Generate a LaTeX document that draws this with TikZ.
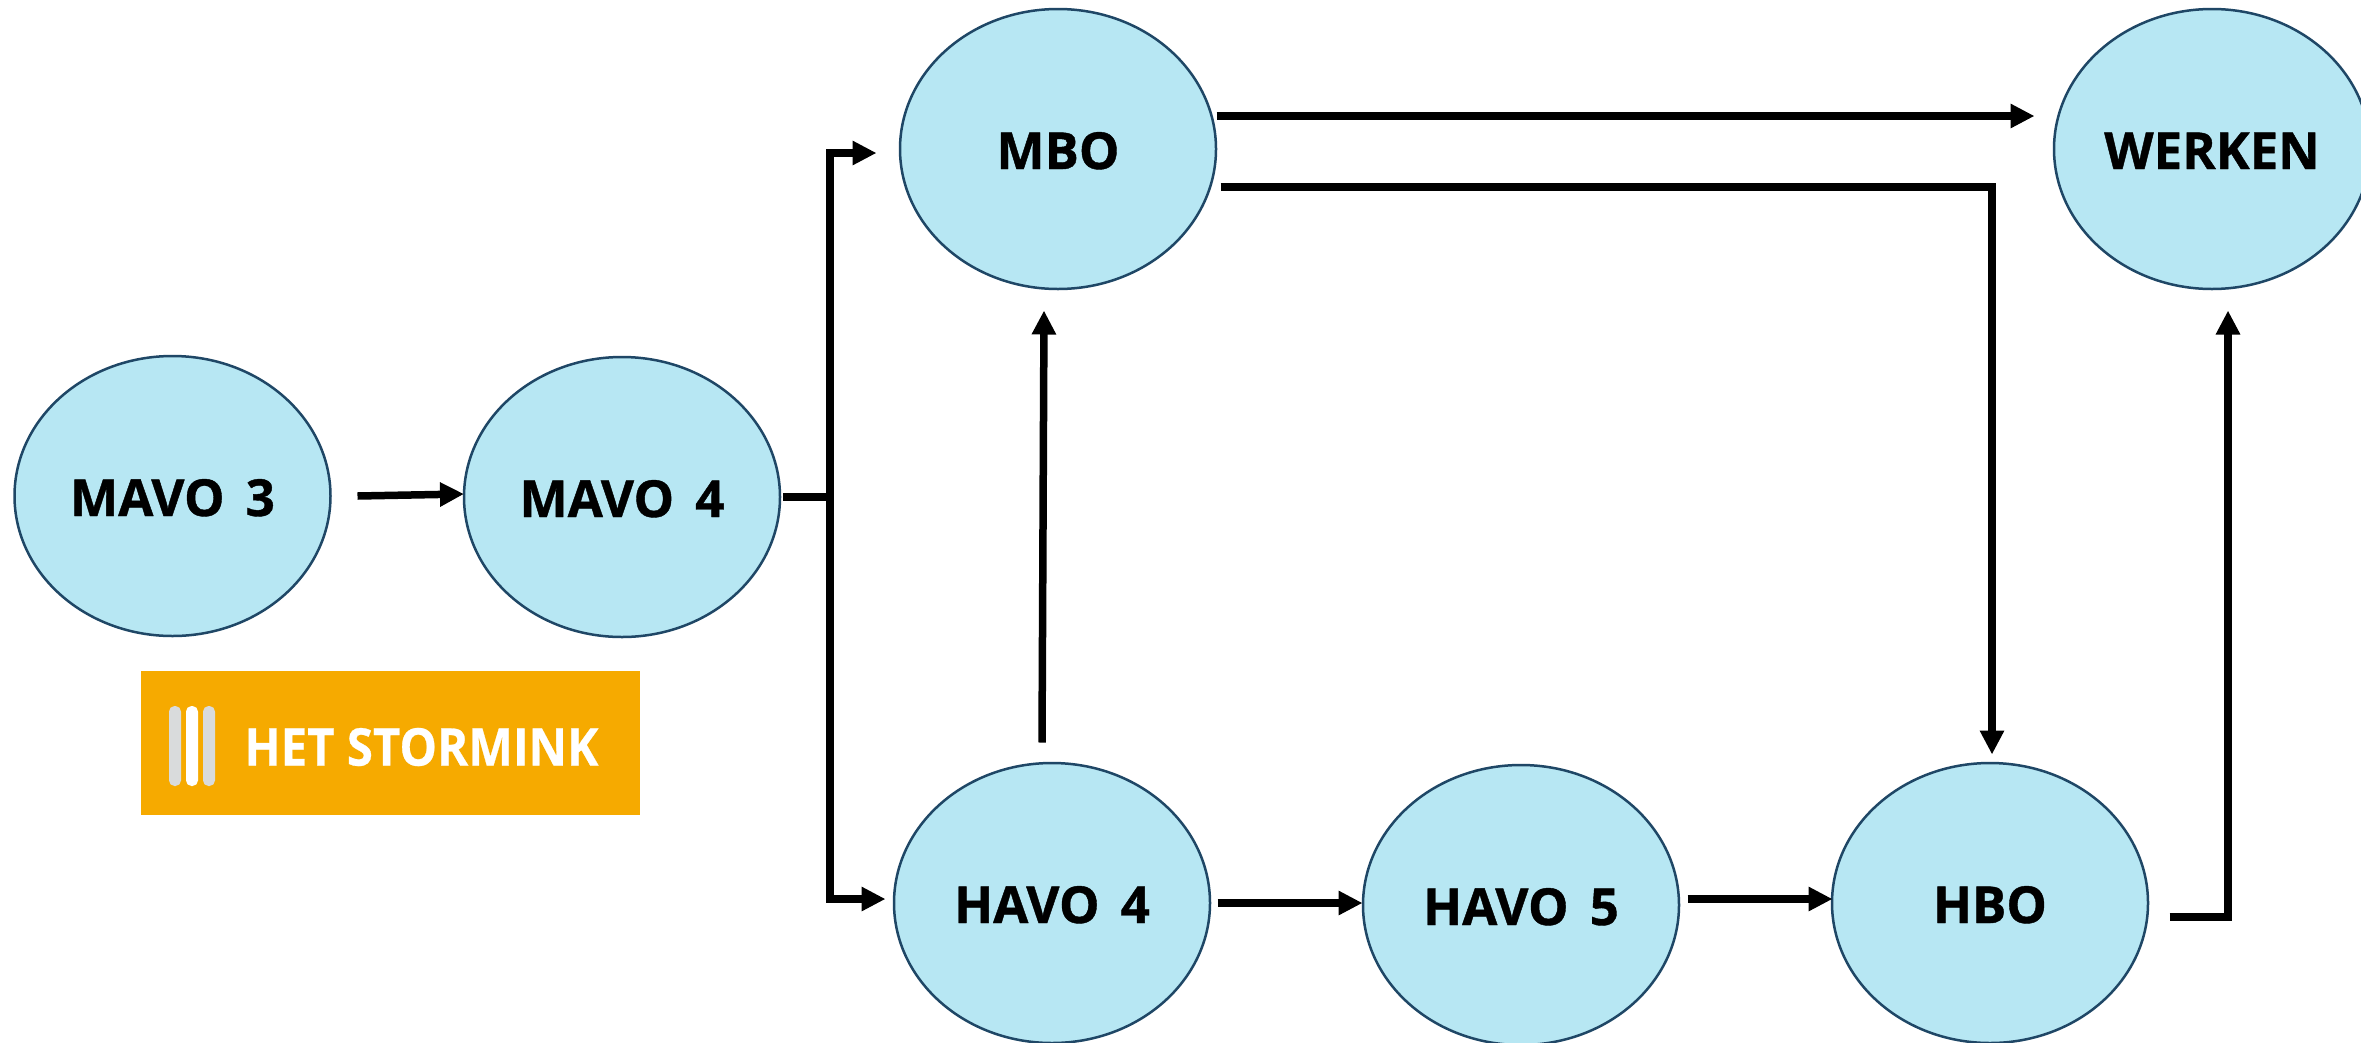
\documentclass[tikz,border=0pt]{standalone}
\usepackage{fontspec}
\setmainfont{Open Sans}[WordSpace=1.6,BoldFeatures={FakeBold=0.8}]
\newfontfamily\logofont{Open Sans}[FakeStretch=0.91,BoldFeatures={FakeBold=0.5,FakeStretch=0.91}]
\usetikzlibrary{shapes.geometric,arrows.meta}
\definecolor{bubble}{HTML}{B7E7F3}
\definecolor{rim}{HTML}{1F4766}
\definecolor{logoorange}{HTML}{F6AA00}
\definecolor{logogray}{HTML}{D9DBDC}
\tikzset{
  stage/.style={ellipse,draw=rim,fill=bubble,line width=2.5pt,minimum width=316pt,minimum height=280pt,inner sep=0pt,outer sep=0pt,font=\fontsize{51}{51}\selectfont\bfseries,text=black,text height=40pt,text depth=0pt},
  link/.style={line width=7.5pt,black,-{Triangle[length=24pt,width=23pt]},line join=miter},
  plain/.style={line width=7.5pt,black},
  logobar/.style={rounded corners=5.5pt,draw=none}
}
\begin{document}
\begin{tikzpicture}[x=1pt,y=-1pt]
\useasboundingbox (0,0) rectangle (2361,1042);
\fill[white] (0,0) rectangle (2361,1042);
\node[stage] (m3) at (172.5,496) {MAVO 3};
\node[stage] (m4) at (622,497) {MAVO 4};
\node[stage] (mbo) at (1058,149) {MBO};
\node[stage] (werken) at (2212,149) {WERKEN};
\node[stage] (h4) at (1052,903) {HAVO 4};
\node[stage] (h5) at (1521,905) {HAVO 5};
\node[stage] (hbo) at (1990,903) {HBO};
% logo
\node[fill=logoorange,minimum width=499pt,minimum height=144pt,inner sep=0pt,outer sep=0pt] (logo) at (390.5,743) {};
\fill[logogray,logobar] (169,706) rectangle (181,786);
\fill[white,logobar] (186,706) rectangle (198,786);
\fill[logogray,logobar] (203,706) rectangle (215,786);
\node[text=white,font=\logofont\fontsize{52}{52}\selectfont\bfseries,inner sep=0pt] (logotext) at (421.5,747) {HET STORMINK};
% connectors
\coordinate (branch) at (830,497);
\draw[link] ([shift={(27,0)}]m3.east) -- ([shift={(0,-3)}]m4.west);
\draw[plain] ([shift={(3,0)}]m4.east) -- (branch);
\draw[link] (branch) |- ([shift={(-23.5,4)}]mbo.west);
\draw[link] (branch) |- ([shift={(-8.5,-4)}]h4.west);
\draw[link] ([shift={(0.5,-33)}]mbo.east) -- ([shift={(-19.5,-33)}]werken.west);
\draw[link] ([shift={(4.5,38)}]mbo.east) -| ([shift={(2,-8.5)}]hbo.north);
\draw[link] ([shift={(-10,-20.5)}]h4.north) -- ([shift={(-14,21.5)}]mbo.south);
\draw[link] ([shift={(7.5,0)}]h4.east) -- ([shift={(-0.5,-2)}]h5.west);
\draw[link] ([shift={(8.5,-6)}]h5.east) -- ([shift={(0.5,-4)}]hbo.west);
\draw[link] ([shift={(21.5,14)}]hbo.east) -| ([shift={(16,21.5)}]werken.south);
\end{tikzpicture}
\end{document}
